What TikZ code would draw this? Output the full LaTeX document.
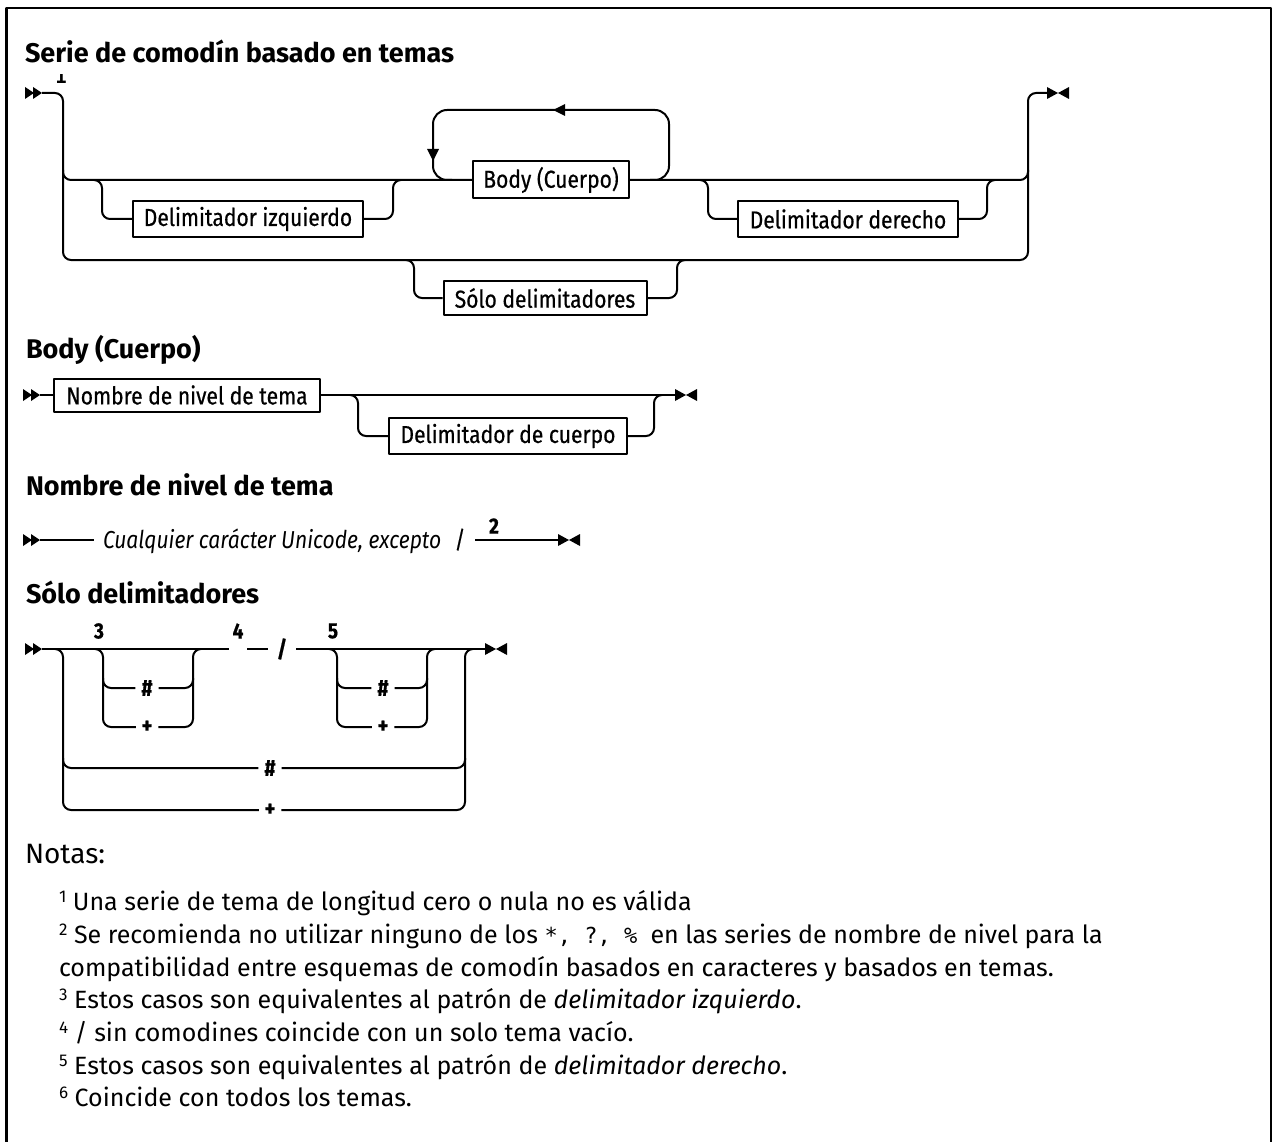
\documentclass[tikz,border=0pt]{standalone}
\usepackage{fontspec}
\setmainfont{Fira Sans}
\newfontfamily\condfont{Fira Sans}[FakeStretch=0.86,FakeBold=0.6]
\newfontfamily\condital{Fira Sans Italic}[FakeStretch=0.86]
\newfontfamily\codefont{DejaVu Sans Mono}
\newcommand\notemark[1]{\raisebox{8pt}{\fontsize{17}{17}\selectfont #1}}
\begin{document}
\begin{tikzpicture}[x=1pt,y=-1pt,line width=2pt,line join=round,
  rr/.style={rounded corners=8pt},
  box/.style={draw,line width=2pt,inner sep=0pt,minimum height=36pt,
    font=\condfont\fontsize{24.5}{28}\selectfont},
  heading/.style={anchor=base west,inner sep=0pt,font=\bfseries\fontsize{27}{30}\selectfont},
  sym/.style={inner sep=0pt,inner xsep=5pt,font=\condfont\bfseries\fontsize{23}{26}\selectfont},
  supnum/.style={inner sep=0pt,font=\condfont\bfseries\fontsize{22}{24}\selectfont},
  note/.style={anchor=base west,inner sep=0pt,font=\fontsize{25}{30}\selectfont},
  startmark/.pic={\fill (0,-6) -- (9,0) -- (0,6) -- cycle;
                  \fill (8,-6) -- (17,0) -- (8,6) -- cycle;},
  endmark/.pic={\fill (0,-6) -- (11,0) -- (0,6) -- cycle;
                \fill (22,-6) -- (11,0) -- (22,6) -- cycle;}]
\useasboundingbox (0,0) rectangle (1274,1142);
\fill[white] (0,0) rectangle (1274,1142);
\draw[line width=2.5pt] (6.5,1150) -- (6.5,8) -- (1271,8) -- (1271,1150);

% ---------- Serie de comodín basado en temas ----------
\node[heading] (h1) at (24,63) {Serie de comodín basado en temas};
\begin{scope}
  \clip (40,75) rectangle (90,90);
  \node[inner sep=0pt,font=\codefont\bfseries\fontsize{19}{20}\selectfont] (n1) at (61,77) {1};
\end{scope}
\pic at (25,93) {startmark};
\coordinate (s1) at (42,93);
\pic at (1047,93) {endmark};
\coordinate (e1) at (1047,93);

\node[box,minimum width=230pt] (izq) at (248,219) {Delimitador izquierdo};
\node[box,minimum width=156pt,minimum height=37pt] (body) at (551,180) {Body (Cuerpo)};
\node[box,minimum width=220pt] (der) at (848,219) {Delimitador derecho};
\node[box,minimum width=203pt,minimum height=34pt] (solo) at (545,298) {Sólo delimitadores};

\draw[rr] (s1) -- (63,93) -- (63,260) -- (1028,260) -- (1028,93) -- (e1);
\draw[rr] (63,170) -- (63,180) -- (body.west);
\draw[rr] (body.east) -- (1028,180) -- (1028,170);
\draw[rr] (94,180) -- (102,180) -- (102,219) -- (izq.west);
\draw[rr] (izq.east) -- (393,219) -- (393,180) -- (401,180);
\draw[rr] (700,180) -- (708,180) -- (708,219) -- (der.west);
\draw[rr] (der.east) -- (987,219) -- (987,180) -- (995,180);
\draw[rr] (406,260) -- (414,260) -- (414,298) -- (solo.west);
\draw[rr] (solo.east) -- (677,298) -- (677,260) -- (685,260);
% repeat loop around the body
\draw[rounded corners=14pt] (650,180) -- (669,180) -- (669,110) -- (433,110) -- (433,180) -- (452,180);
\fill (553,110) -- (565,104) -- (565,116) -- cycle;
\fill (433,161) -- (427,149) -- (439,149) -- cycle;

% ---------- Body (Cuerpo) ----------
\node[heading] (h2) at (25,358) {Body (Cuerpo)};
\pic at (23,395) {startmark};
\coordinate (s2) at (40,395);
\node[box,minimum width=266pt,minimum height=33pt] (nn) at (187,395) {Nombre de nivel de tema};
\node[box,minimum width=238pt] (dc) at (508,436) {Delimitador de cuerpo};
\pic at (675,395) {endmark};
\coordinate (e2) at (675,395);
\draw (s2) -- (nn.west);
\draw (nn.east) -- (e2);
\draw[rr] (350,395) -- (358,395) -- (358,436) -- (dc.west);
\draw[rr] (dc.east) -- (654,436) -- (654,395) -- (662,395);

% ---------- Nombre de nivel de tema ----------
\node[heading] (h3) at (25,495) {Nombre de nivel de tema};
\pic at (23,540) {startmark};
\coordinate (s3) at (40,540);
\node[anchor=base west,inner sep=0pt,inner xsep=8pt,
  font=\condital\fontsize{24.5}{28}\selectfont] (any) at (94,548) {Cualquier carácter Unicode, excepto};
\node[anchor=base,inner sep=0pt,font=\condfont\fontsize{24}{28}\selectfont] (sl3) at (460,548) {/};
\node[supnum] (n2) at (494,526) {2};
\coordinate (c3) at (475,540);
\pic at (558,540) {endmark};
\coordinate (e3) at (558,540);
\draw (s3) -- (any.west |- s3);
\draw (c3) -- (e3);

% ---------- Sólo delimitadores ----------
\node[heading] (h4) at (25,603) {Sólo delimitadores};
\pic at (25,649) {startmark};
\coordinate (s4) at (42,649);
\pic at (485,649) {endmark};
\coordinate (e4) at (485,649);

\node[supnum] (n3) at (99,631) {3};
\node[supnum,inner xsep=3pt] (n4) at (238,631) {4};
\node[supnum] (n5) at (333,631) {5};
\node[sym,inner xsep=8pt] (sl4) at (282,649) {/};
\node[sym] (ha) at (147,688) {\#};
\node[sym] (pa) at (147,727) {+};
\node[sym] (hb) at (383,688) {\#};
\node[sym] (pb) at (383,727) {+};
\node[sym] (hc) at (270,768) {\#};
\node[sym] (pc) at (270,810) {+};

\draw (s4) -- (n4.west |- s4);
\draw (n4.east |- s4) -- (sl4.west);
\draw (sl4.east) -- (e4);
% outer choice
\draw[rr] (55,649) -- (63,649) -- (63,810) -- (pc.west);
\draw[rr] (pc.east) -- (465,810) -- (465,649) -- (473,649);
\draw[rr] (63,758) -- (63,768) -- (hc.west);
\draw[rr] (hc.east) -- (465,768) -- (465,758);
% left optional group
\draw[rr] (95,649) -- (103,649) -- (103,727) -- (pa.west);
\draw[rr] (pa.east) -- (193,727) -- (193,649) -- (201,649);
\draw[rr] (103,678) -- (103,688) -- (ha.west);
\draw[rr] (ha.east) -- (193,688) -- (193,678);
% right optional group
\draw[rr] (329,649) -- (337,649) -- (337,727) -- (pb.west);
\draw[rr] (pb.east) -- (427,727) -- (427,649) -- (435,649);
\draw[rr] (337,678) -- (337,688) -- (hb.west);
\draw[rr] (hb.east) -- (427,688) -- (427,678);

% ---------- Notas ----------
\node[note,font=\fontsize{28}{30}\selectfont] (notas) at (24,863) {Notas:};
\node[note] (t1) at (58,910) {\notemark{1} Una serie de tema de longitud cero o nula no es válida};
\node[note] (t2) at (58,943) {\notemark{2} Se recomienda no utilizar ninguno de los {\codefont\fontsize{22}{26}\selectfont *,~?,~\%\ }en las series de nombre de nivel para la};
\node[note] (t3) at (58,976) {compatibilidad entre esquemas de comodín basados en caracteres y basados en temas.};
\node[note] (t4) at (58,1008) {\notemark{3} Estos casos son equivalentes al patrón de \textit{delimitador izquierdo}.};
\node[note] (t5) at (58,1041) {\notemark{4} / sin comodines coincide con un solo tema vacío.};
\node[note] (t6) at (58,1074) {\notemark{5} Estos casos son equivalentes al patrón de \textit{delimitador derecho}.};
\node[note] (t7) at (58,1106) {\notemark{6} Coincide con todos los temas.};
\end{tikzpicture}
\end{document}
